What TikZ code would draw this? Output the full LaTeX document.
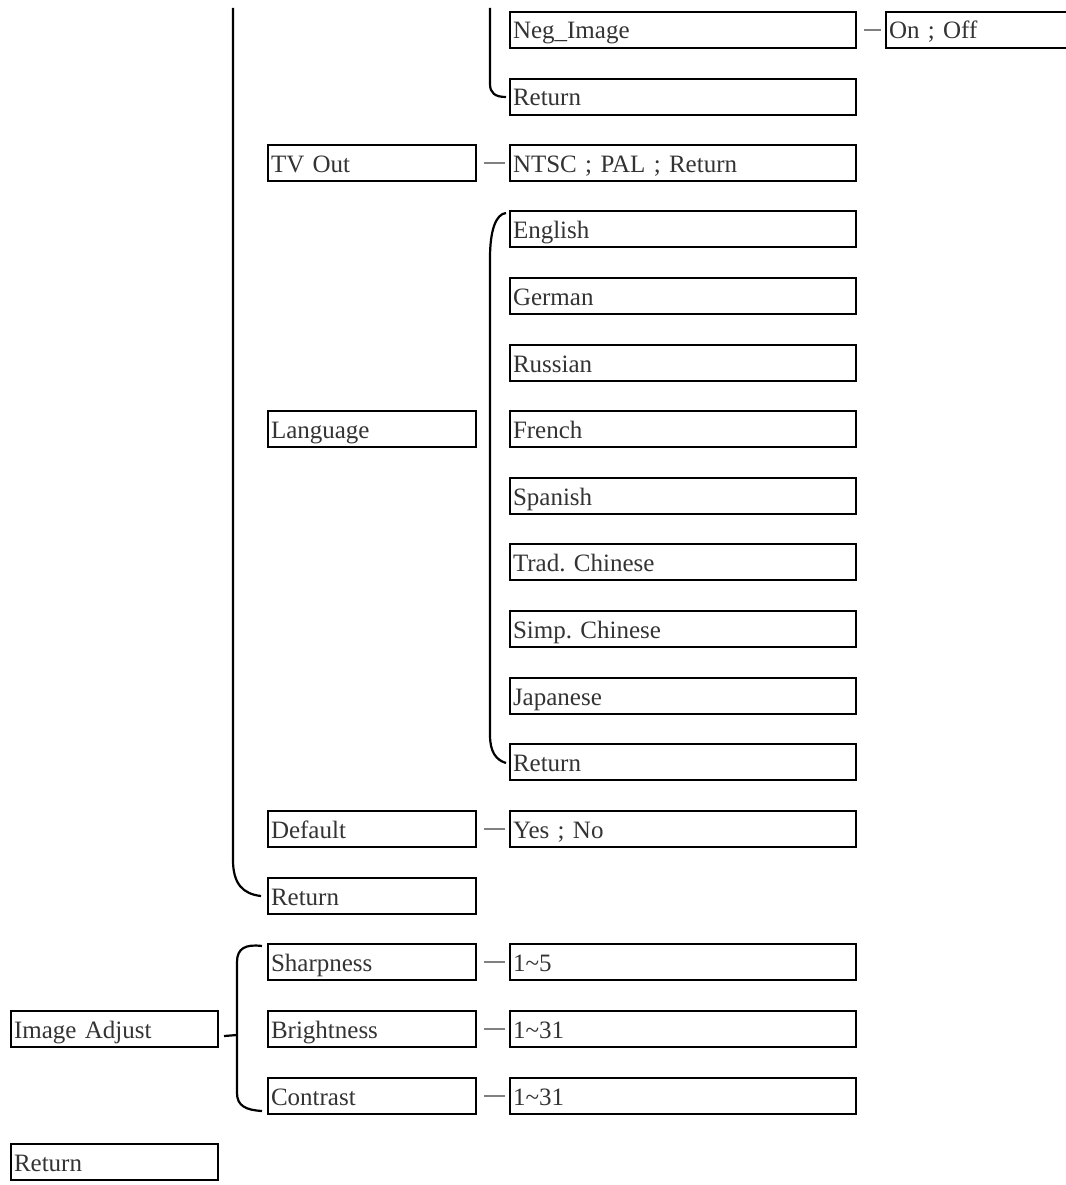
\documentclass[tikz,border=0pt]{standalone}
\usepackage{fontspec}
\setmainfont{Liberation Serif}
\frenchspacing
\begin{document}
\begin{tikzpicture}[x=1pt,y=-1pt,
  box/.style={draw=black, line width=2pt, anchor=north west, minimum height=36pt,
    inner xsep=3pt, inner ysep=0pt, text height=19pt, text depth=1pt, align=left,
    font=\fontsize{25}{28}\selectfont, text=black!80},
  colL/.style={text width=201pt, minimum width=207pt},
  colM/.style={text width=202pt, minimum width=208pt},
  colR/.style={text width=340pt, minimum width=346pt},
  colO/.style={text width=180pt, minimum width=186pt},
  link/.style={draw=black!50, line width=1.4pt},
  brk/.style={draw=black, line width=2.2pt}]
\useasboundingbox (0,0) rectangle (1065,1185);
% nodes
\node[box,colR] (neg)  at (509,11)   {Neg\_Image};
\node[box,colO] (onoff) at (885,11)  {On ; Off};
\node[box,colR] (ret1) at (509,78)   {Return};
\node[box,colM] (tv)   at (267,144)  {TV Out};
\node[box,colR] (ntsc) at (509,144)  {NTSC ; PAL ; Return};
\node[box,colR] (eng)  at (509,210)  {English};
\node[box,colR] (ger)  at (509,277)  {German};
\node[box,colR] (rus)  at (509,344)  {Russian};
\node[box,colM] (lang) at (267,410)  {Language};
\node[box,colR] (fre)  at (509,410)  {French};
\node[box,colR] (spa)  at (509,477)  {Spanish};
\node[box,colR] (trad) at (509,543)  {Trad. Chinese};
\node[box,colR] (simp) at (509,610)  {Simp. Chinese};
\node[box,colR] (jap)  at (509,677)  {Japanese};
\node[box,colR] (ret3) at (509,743)  {Return};
\node[box,colM] (def)  at (267,810)  {Default};
\node[box,colR] (yes)  at (509,810)  {Yes ; No};
\node[box,colM] (ret2) at (267,877)  {Return};
\node[box,colM] (sharp) at (267,943) {Sharpness};
\node[box,colR] (sv)   at (509,943)  {1\textasciitilde5};
\node[box,colL] (img)  at (10,1010)  {Image Adjust};
\node[box,colM] (bri)  at (267,1010) {Brightness};
\node[box,colR] (bv)   at (509,1010) {1\textasciitilde31};
\node[box,colM] (con)  at (267,1077) {Contrast};
\node[box,colR] (cv)   at (509,1077) {1\textasciitilde31};
\node[box,colL] (ret0) at (10,1143)  {Return};
% dashes
\draw[link] ([xshift=7pt]neg.east) -- ([xshift=-4pt]onoff.west);
\draw[link] ([xshift=7pt]tv.east) -- ([xshift=-4pt]ntsc.west);
\draw[link] ([xshift=7pt]def.east) -- ([xshift=-4pt]yes.west);
\draw[link] ([xshift=7pt]sharp.east) -- ([xshift=-4pt]sv.west);
\draw[link] ([xshift=7pt]bri.east) -- ([xshift=-4pt]bv.west);
\draw[link] ([xshift=7pt]con.east) -- ([xshift=-4pt]cv.west);
% brackets
\draw[brk] (233,8) -- (233,860) .. controls (233,884) and (243,894) .. ([xshift=-6pt]ret2.west);
\draw[brk] (490,8) -- (490,84) .. controls (490,93) and (495,97) .. ([xshift=-3pt]ret1.west);
\draw[brk] ([xshift=-3pt,yshift=16pt]eng.west) .. controls (496,214) and (490,230) .. (490,258)
   -- (490,735) .. controls (490,752) and (496,760) .. ([xshift=-3pt,yshift=-1pt]ret3.west);
\draw[brk] ([xshift=-5pt,yshift=16pt]sharp.west) .. controls (246,944) and (237,948) .. (237,962)
   -- (237,1093) .. controls (237,1106) and (246,1110) .. ([xshift=-5pt,yshift=-15pt]con.west);
\draw[brk] ([xshift=5pt,yshift=-7pt]img.east) -- (237,1035);
\end{tikzpicture}
\end{document}
